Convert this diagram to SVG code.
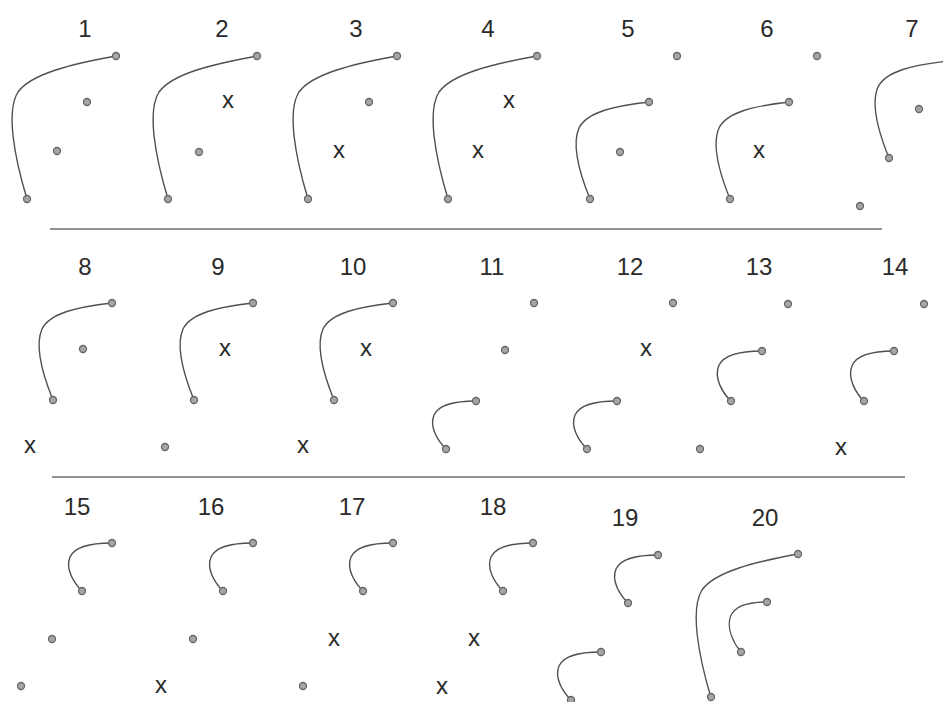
<svg xmlns="http://www.w3.org/2000/svg" xmlns:xlink="http://www.w3.org/1999/xlink" width="943" height="702" viewBox="0 0 943 702">
<style>
.lbl{font-family:"Liberation Sans",Arial,sans-serif;font-size:24px;fill:#2a2a2a;text-anchor:middle}
.x{font-family:"Liberation Sans",Arial,sans-serif;font-size:24px;fill:#2a2a2a;text-anchor:middle}
.c{fill:none;stroke:#505050;stroke-width:1.4}
.sep{stroke:#2a2a2a;stroke-width:1.2}
.d{fill:#a6a6a6;stroke:#666;stroke-width:1.3}
</style>
<defs>
<path id="big" class="c" d="M0,0 C-45,8 -85,18 -98,36 C-110,55 -102,100 -89,143"/>
<path id="mid" class="c" d="M0,0 C-35,4 -62,10 -70,26 C-77,42 -70,70 -59,97"/>
<path id="small" class="c" d="M0,0 C-20,0 -37,3 -42,14 C-47,26 -38,40 -30,48"/>
<circle id="dot" class="d" r="3.5"/>
</defs>
<rect width="943" height="702" fill="#fff"/>
<g id="separators">
<line class="sep" x1="50" y1="229" x2="882" y2="229"/>
<line class="sep" x1="52" y1="477" x2="905" y2="477"/>
</g>
<g id="connectors">
<use href="#big" x="116" y="56"/>
<use href="#big" x="257" y="56"/>
<use href="#big" x="397" y="56"/>
<use href="#big" x="537" y="56"/>
<use href="#mid" x="649" y="102"/>
<use href="#mid" x="789" y="102"/>
<use href="#mid" x="948" y="61"/>
<use href="#mid" x="112" y="303"/>
<use href="#mid" x="253" y="303"/>
<use href="#mid" x="393" y="303"/>
<use href="#small" x="476" y="401"/>
<use href="#small" x="617" y="401"/>
<use href="#small" transform="translate(762,351) scale(1.03,1.05)"/>
<use href="#small" transform="translate(894,351) scale(1.0,1.05)"/>
<use href="#small" x="112" y="543"/>
<use href="#small" x="253" y="543"/>
<use href="#small" x="393" y="543"/>
<use href="#small" x="533" y="543"/>
<use href="#small" x="658" y="555"/>
<use href="#small" x="601" y="652"/>
<use href="#big" transform="translate(798,554) scale(0.98,1)"/>
<use href="#small" transform="translate(767,602) scale(0.87,1.04)"/>
</g>
<g id="panel-1">
<text class="lbl" x="85" y="37">1</text>
<use href="#dot" x="116" y="56"/><use href="#dot" x="87" y="102"/><use href="#dot" x="57" y="151"/><use href="#dot" x="27" y="199"/>
</g>
<g id="panel-2">
<text class="lbl" x="222" y="37">2</text>
<use href="#dot" x="257" y="56"/><text class="x" x="228" y="108">x</text><use href="#dot" x="199" y="152"/><use href="#dot" x="168" y="199"/>
</g>
<g id="panel-3">
<text class="lbl" x="356" y="37">3</text>
<use href="#dot" x="397" y="56"/><use href="#dot" x="369" y="102"/><text class="x" x="339" y="158">x</text><use href="#dot" x="308" y="199"/>
</g>
<g id="panel-4">
<text class="lbl" x="488" y="37">4</text>
<use href="#dot" x="537" y="56"/><text class="x" x="509" y="108">x</text><text class="x" x="478" y="158">x</text><use href="#dot" x="448" y="199"/>
</g>
<g id="panel-5">
<text class="lbl" x="628" y="37">5</text>
<use href="#dot" x="677" y="56"/><use href="#dot" x="649" y="102"/><use href="#dot" x="620" y="152"/><use href="#dot" x="590" y="199"/>
</g>
<g id="panel-6">
<text class="lbl" x="767" y="37">6</text>
<use href="#dot" x="817" y="56"/><use href="#dot" x="789" y="102"/><text class="x" x="759" y="158">x</text><use href="#dot" x="730" y="199"/>
</g>
<g id="panel-7">
<text class="lbl" x="912" y="37">7</text>
<use href="#dot" x="919" y="109"/><use href="#dot" x="889" y="158"/><use href="#dot" x="860" y="206"/>
</g>
<g id="panel-8">
<text class="lbl" x="85" y="275">8</text>
<use href="#dot" x="112" y="303"/><use href="#dot" x="83" y="349"/><use href="#dot" x="53" y="400"/><text class="x" x="30" y="453">x</text>
</g>
<g id="panel-9">
<text class="lbl" x="218" y="275">9</text>
<use href="#dot" x="253" y="303"/><text class="x" x="225" y="356">x</text><use href="#dot" x="194" y="400"/><use href="#dot" x="165" y="447"/>
</g>
<g id="panel-10">
<text class="lbl" x="353" y="275">10</text>
<use href="#dot" x="393" y="303"/><text class="x" x="366" y="356">x</text><use href="#dot" x="334" y="400"/><text class="x" x="303" y="453">x</text>
</g>
<g id="panel-11">
<text class="lbl" x="492" y="275">11</text>
<use href="#dot" x="534" y="303"/><use href="#dot" x="505" y="350"/><use href="#dot" x="476" y="401"/><use href="#dot" x="446" y="449"/>
</g>
<g id="panel-12">
<text class="lbl" x="630" y="275">12</text>
<use href="#dot" x="673" y="303"/><text class="x" x="646" y="356">x</text><use href="#dot" x="617" y="401"/><use href="#dot" x="587" y="449"/>
</g>
<g id="panel-13">
<text class="lbl" x="759" y="275">13</text>
<use href="#dot" x="788" y="304"/><use href="#dot" x="762" y="351"/><use href="#dot" x="731" y="401"/><use href="#dot" x="700" y="449"/>
</g>
<g id="panel-14">
<text class="lbl" x="895" y="275">14</text>
<use href="#dot" x="924" y="304"/><use href="#dot" x="894" y="351"/><use href="#dot" x="864" y="401"/><text class="x" x="841" y="455">x</text>
</g>
<g id="panel-15">
<text class="lbl" x="77" y="515">15</text>
<use href="#dot" x="112" y="543"/><use href="#dot" x="82" y="591"/><use href="#dot" x="52" y="639"/><use href="#dot" x="21" y="686"/>
</g>
<g id="panel-16">
<text class="lbl" x="211" y="515">16</text>
<use href="#dot" x="253" y="543"/><use href="#dot" x="223" y="591"/><use href="#dot" x="193" y="639"/><text class="x" x="161" y="693">x</text>
</g>
<g id="panel-17">
<text class="lbl" x="352" y="515">17</text>
<use href="#dot" x="393" y="543"/><use href="#dot" x="363" y="591"/><text class="x" x="334" y="646">x</text><use href="#dot" x="303" y="686"/>
</g>
<g id="panel-18">
<text class="lbl" x="493" y="515">18</text>
<use href="#dot" x="533" y="543"/><use href="#dot" x="503" y="591"/><text class="x" x="474" y="646">x</text><text class="x" x="442" y="694">x</text>
</g>
<g id="panel-19">
<text class="lbl" x="625" y="526">19</text>
<use href="#dot" x="658" y="555"/><use href="#dot" x="628" y="603"/><use href="#dot" x="601" y="652"/><use href="#dot" x="571" y="700"/>
</g>
<g id="panel-20">
<text class="lbl" x="765" y="526">20</text>
<use href="#dot" x="798" y="554"/><use href="#dot" x="767" y="602"/><use href="#dot" x="741" y="652"/><use href="#dot" x="711" y="697"/>
</g>
</svg>
